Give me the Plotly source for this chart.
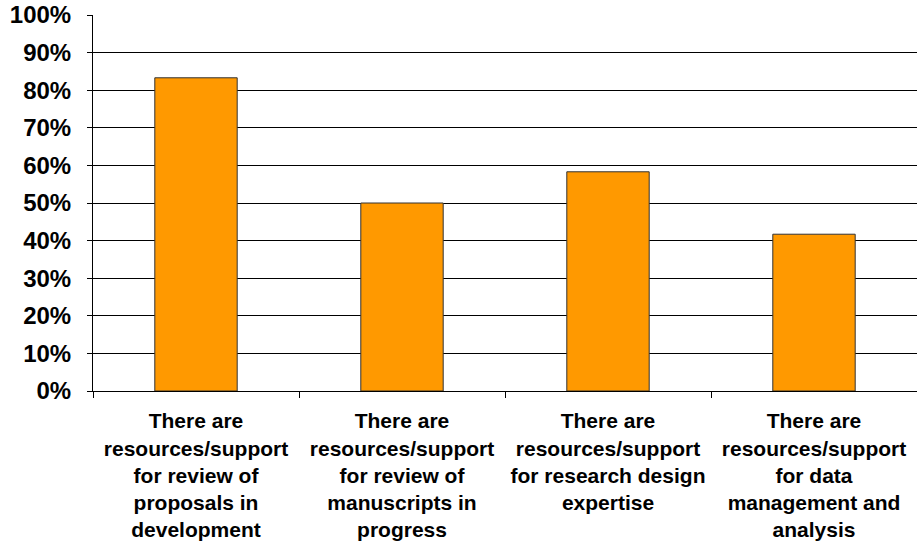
import plotly.graph_objects as go

categories = [
    "There are<br>resources/support<br>for review of<br>proposals in<br>development",
    "There are<br>resources/support<br>for review of<br>manuscripts in<br>progress",
    "There are<br>resources/support<br>for research design<br>expertise",
    "There are<br>resources/support<br>for data<br>management and<br>analysis",
]
values = [0.833, 0.50, 0.583, 0.417]

fig = go.Figure(
    go.Bar(
        x=categories,
        y=values,
        marker=dict(color="#FF9900", line=dict(color="#333333", width=1)),
    )
)

font_family = "Liberation Sans, Arial, sans-serif"

fig.update_layout(
    width=917,
    height=546,
    margin=dict(l=93, r=0, t=15, b=155, autoexpand=False),
    plot_bgcolor="white",
    paper_bgcolor="white",
    bargap=0.6,
    showlegend=False,
    font=dict(family=font_family, color="black"),
)

fig.update_yaxes(
    range=[0, 1],
    dtick=0.1,
    tickformat=".0%",
    showgrid=True,
    gridcolor="black",
    gridwidth=1,
    showline=True,
    linecolor="black",
    linewidth=1,
    ticks="outside",
    ticklen=5,
    tickcolor="black",
    ticklabelstandoff=11,
    tickfont=dict(size=24, family=font_family, color="black", weight="bold"),
    zeroline=False,
    automargin=False,
)

fig.update_xaxes(
    showline=True,
    linecolor="black",
    linewidth=1,
    ticks="outside",
    tickson="boundaries",
    ticklen=6,
    tickcolor="black",
    ticklabelstandoff=11,
    tickfont=dict(size=21, family=font_family, color="black", weight="bold"),
    tickangle=0,
    automargin=False,
)

fig.write_html(
    "out.html",
    config={"displayModeBar": False},
    post_script="document.body.style.margin='0';document.body.style.overflow='hidden';",
)
